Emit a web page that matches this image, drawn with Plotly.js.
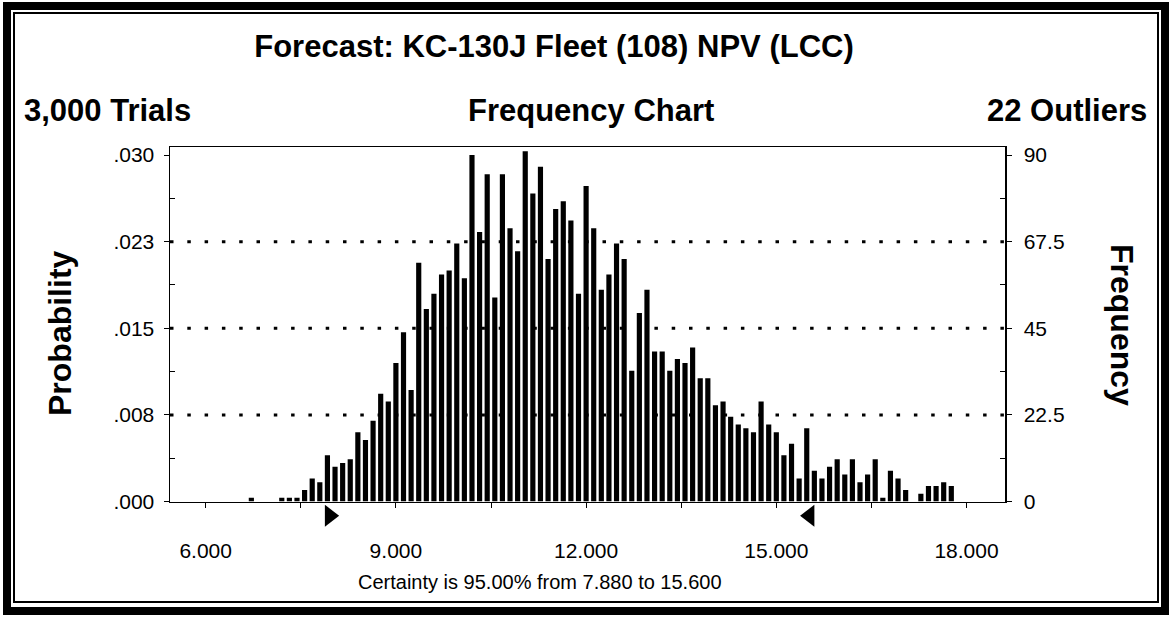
<!DOCTYPE html>
<html>
<head>
<meta charset="utf-8">
<script src="https://cdn.plot.ly/plotly-3.0.1.min.js"></script>
<style>
html,body{margin:0;padding:0;background:#fff;}
#chart{position:absolute;left:0;top:0;width:1171px;height:620px;}
#outer{position:absolute;left:3px;top:2px;width:1166px;height:613px;border:8px solid #000;box-sizing:border-box;pointer-events:none;}
#inner{position:absolute;left:13px;top:12px;width:1146px;height:591px;border:2px solid #000;box-sizing:border-box;pointer-events:none;}
</style>
</head>
<body>
<div id="chart"></div>
<div id="outer"></div>
<div id="inner"></div>
<script>
// ---- data ----
const chartTitle = 'Forecast: KC-130J Fleet (108) NPV (LCC)';
const trialsLabel = '3,000 Trials';
const chartKind = 'Frequency Chart';
const outliersLabel = '22 Outliers';
const certaintyLabel = 'Certainty is 95.00% from 7.880 to 15.600';
const certaintyLow = 7.88;
const certaintyHigh = 15.6;

const binStart = 6.0;     // centre of first bin
const binWidth = 0.12;
const frequency = [
  0, 0, 0, 0, 0, 0, 1, 0, 0, 0,
  1, 1, 1, 3, 6, 5, 12, 9, 10, 11,
  18, 16, 21, 28, 26, 36, 44, 29, 62, 50,
  54, 59, 60, 67, 58, 90, 70, 85, 53, 85,
  71, 65, 91, 80, 87, 63, 76, 78, 73, 54,
  82, 71, 55, 59, 67, 63, 34, 49, 55, 39,
  39, 34, 37, 36, 40, 32, 32, 25, 26, 22,
  20, 19, 18, 26, 20, 18, 12, 15, 6, 19,
  8, 6, 9, 11, 7, 11, 5, 7, 11, 1,
  8, 6, 3, 0, 2, 4, 4, 5, 4
];

const yTickVals = [0, 22.5, 45, 67.5, 90];
const probTickText = ['.000', '.008', '.015', '.023', '.030'];
const freqTickText = ['0', '22.5', '45', '67.5', '90'];
const yMinorVals = [11.25, 33.75, 56.25, 78.75];
const gridVals = [22.5, 45, 67.5];
const xTickVals = [6, 9, 12, 15, 18];
const xTickText = ['6.000', '9.000', '12.000', '15.000', '18.000'];
const xMinorVals = [7.5, 10.5, 13.5, 16.5];

// ---- layout geometry ----
const W = 1171, H = 620;
const M = {l: 170, r: 166, t: 147, b: 90};
const plotW = W - M.l - M.r, plotH = H - M.t - M.b;
const axisBottomPx = 501.5;                       // where the frequency axis meets 0
const mainDomainLow = (H - M.b - axisBottomPx) / plotH;
const xRange = [5.437, 18.607];
const yRange = [0, 92.1];
const pxX = px => (px - M.l) / plotW;          // container px -> paper x
const pxY = py => 1 - (py - M.t) / plotH;      // container px -> paper y
const unitsPerPxX = (xRange[1] - xRange[0]) / plotW;

const regFont = 'Liberation Sans, Arial, sans-serif';
const black = '#000';

const bars = {
  type: 'bar',
  x0: binStart,
  dx: binWidth,
  y: frequency,
  marker: {color: black, line: {width: 0}},
  hoverinfo: 'x+y',
  showlegend: false
};

// same histogram on the right-hand (frequency) axis, transparent: it only carries that axis
const barsRight = Object.assign({}, bars, {
  yaxis: 'y2',
  marker: {color: 'rgba(0,0,0,0)', line: {width: 0}},
  hoverinfo: 'skip'
});

const triSize = 19;
const grabbers = {
  type: 'scatter',
  mode: 'markers',
  x: [certaintyLow + (triSize / 4) * unitsPerPxX, certaintyHigh - (triSize / 4) * unitsPerPxX],
  y: [0.5, 0.5],
  yaxis: 'y3',
  marker: {symbol: ['triangle-right', 'triangle-left'], size: triSize, color: black, line: {width: 0}},
  hoverinfo: 'skip',
  showlegend: false
};

const axisCommon = {
  showline: true, linecolor: black, linewidth: 1.5,
  ticks: 'outside', ticklen: 5, tickwidth: 1, tickcolor: black,
  showgrid: false, zeroline: false, fixedrange: true,
  tickfont: {family: regFont, size: 21, color: black}
};

const headFont = {family: regFont, size: 31, color: black};

const layout = {
  width: W, height: H,
  margin: M,
  paper_bgcolor: '#fff', plot_bgcolor: 'rgba(0,0,0,0)',
  bargap: 0.32,
  barmode: 'overlay',
  showlegend: false,
  title: {
    text: '<b>' + chartTitle + '</b>',
    font: headFont,
    x: 554 / W, xanchor: 'center', xref: 'container',
    y: 1 - 46 / H, yanchor: 'middle', yref: 'container'
  },
  xaxis: Object.assign({}, axisCommon, {
    range: xRange, tickmode: 'array', tickvals: xTickVals, ticktext: xTickText,
    anchor: 'y', mirror: true, ticklabelstandoff: 25,
    minor: {tickmode: 'array', tickvals: xMinorVals, ticks: 'outside', ticklen: 5, tickcolor: black, showgrid: false}
  }),
  yaxis: Object.assign({}, axisCommon, {
    domain: [mainDomainLow, 1],
    range: yRange, tickmode: 'array', tickvals: yTickVals, ticktext: probTickText,
    ticklabelstandoff: 5,
    minor: {tickmode: 'array', tickvals: yMinorVals, ticks: 'inside', ticklen: 5, tickcolor: black, showgrid: false}
  }),
  yaxis2: Object.assign({}, axisCommon, {
    range: yRange, tickmode: 'array', tickvals: yTickVals, ticktext: freqTickText,
    overlaying: 'y', side: 'right', anchor: 'x', ticklabelstandoff: 8,
    minor: {tickmode: 'array', tickvals: yMinorVals, ticks: 'inside', ticklen: 5, tickcolor: black, showgrid: false}
  }),
  yaxis3: {
    domain: [0, mainDomainLow], range: [0, 1], visible: false, fixedrange: true, anchor: 'x'
  },
  shapes: gridVals.map(v => ({
    type: 'line', xref: 'paper', x0: 0, x1: 1, yref: 'y', y0: v, y1: v,
    line: {color: black, width: 3, dash: '3.5px,13.8px'}, layer: 'below'
  })),
  annotations: [
    {text: '<b>' + trialsLabel + '</b>', xref: 'paper', yref: 'paper', x: pxX(22), y: pxY(110),
     xanchor: 'left', yanchor: 'middle', showarrow: false, font: headFont},
    {text: '<b>' + chartKind + '</b>', xref: 'paper', yref: 'paper', x: pxX(591), y: pxY(110),
     xanchor: 'center', yanchor: 'middle', showarrow: false, font: headFont},
    {text: '<b>' + outliersLabel + '</b>', xref: 'paper', yref: 'paper', x: pxX(1149), y: pxY(110),
     xanchor: 'right', yanchor: 'middle', showarrow: false, font: headFont},
    {text: '<b>Probability</b>', xref: 'paper', yref: 'paper', x: pxX(60), y: pxY(333),
     xanchor: 'center', yanchor: 'middle', textangle: -90, showarrow: false,
     font: {family: regFont, size: 32, color: black}},
    {text: '<b>Frequency</b>', xref: 'paper', yref: 'paper', x: pxX(1122), y: pxY(325),
     xanchor: 'center', yanchor: 'middle', textangle: 90, showarrow: false,
     font: {family: regFont, size: 32, color: black}},
    {text: certaintyLabel, xref: 'paper', yref: 'paper', x: pxX(540), y: pxY(582),
     xanchor: 'center', yanchor: 'middle', showarrow: false, font: {family: regFont, size: 20, color: black}}
  ]
};

Plotly.newPlot('chart', [bars, barsRight, grabbers], layout, {displayModeBar: false, staticPlot: true});
</script>
</body>
</html>
